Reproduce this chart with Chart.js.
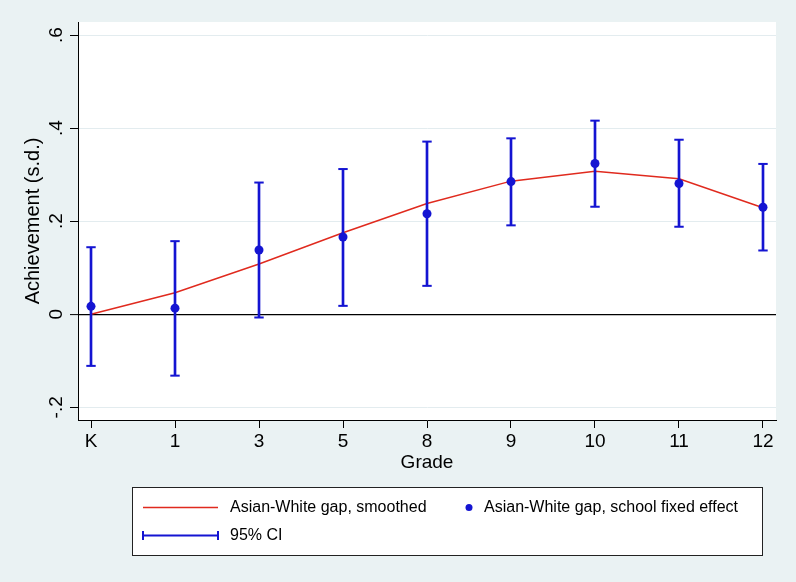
<!DOCTYPE html>
<html><head><meta charset="utf-8">
<script src="https://cdn.jsdelivr.net/npm/chart.js@4/dist/chart.umd.min.js"></script>
<style>html,body{margin:0;padding:0;background:#eaf2f3;} #wrap{width:796px;height:582px;}</style>
</head><body><div id="wrap"><canvas id="c" width="796" height="582"></canvas></div>
<script>
const grades = ['K','1','3','5','8','9','10','11','12'];
const smoothed = [0.000,0.046,0.108,0.175,0.238,0.286,0.307,0.291,0.229];
const fixedEffect = [0.017,0.013,0.138,0.166,0.216,0.285,0.324,0.281,0.230];
const ciLow = [-0.111,-0.132,-0.007,0.018,0.061,0.191,0.231,0.188,0.137];
const ciHigh = [0.144,0.157,0.283,0.312,0.371,0.378,0.416,0.375,0.323];
const yTicks = [-0.2,0,0.2,0.4,0.6];
const yTickLabels = ['-.2','0','.2','.4','.6'];
const legendLabels = ['Asian-White gap, smoothed','Asian-White gap, school fixed effect','95% CI'];

const BLUE = '#1414d2';
const RED = '#e02a1e';
const FONT = "'Liberation Sans', Arial, Helvetica, sans-serif";
Chart.defaults.font.family = FONT;
Chart.defaults.color = '#000';

const bgPlugin = {
  id: 'bg',
  beforeDraw(chart) {
    const {ctx, chartArea: a} = chart;
    ctx.save();
    ctx.fillStyle = '#eaf2f3';
    ctx.fillRect(0, 0, chart.width, chart.height);
    ctx.fillStyle = '#ffffff';
    ctx.fillRect(a.left, a.top, a.right - a.left, a.bottom - a.top);
    ctx.restore();
  }
};

const legendPlugin = {
  id: 'stataLegend',
  afterDraw(chart) {
    const ctx = chart.ctx;
    ctx.save();
    const bx = 132.5, by = 487.5, bw = 630, bh = 68;
    ctx.fillStyle = '#ffffff';
    ctx.fillRect(bx, by, bw, bh);
    ctx.strokeStyle = '#222';
    ctx.lineWidth = 1;
    ctx.strokeRect(bx, by, bw, bh);
    const r1 = 507.5, r2 = 535.5;
    // smoothed line sample
    ctx.strokeStyle = RED; ctx.lineWidth = 1.5;
    ctx.beginPath(); ctx.moveTo(143, r1); ctx.lineTo(218, r1); ctx.stroke();
    // dot sample
    ctx.fillStyle = BLUE;
    ctx.beginPath(); ctx.arc(469, r1, 3.5, 0, Math.PI * 2); ctx.fill();
    // CI sample
    ctx.strokeStyle = BLUE; ctx.lineWidth = 2;
    ctx.beginPath();
    ctx.moveTo(143, r2); ctx.lineTo(218, r2);
    ctx.moveTo(143, r2 - 4.5); ctx.lineTo(143, r2 + 4.5);
    ctx.moveTo(218, r2 - 4.5); ctx.lineTo(218, r2 + 4.5);
    ctx.stroke();
    ctx.fillStyle = '#000';
    ctx.font = '16px ' + FONT;
    ctx.textBaseline = 'middle';
    ctx.textAlign = 'left';
    ctx.fillText(legendLabels[0], 230, r1);
    ctx.fillText(legendLabels[1], 484, r1);
    ctx.fillText(legendLabels[2], 230, r2);
    ctx.restore();
  }
};

const capPoints = [];
grades.forEach((g, i) => { capPoints.push({x: i, y: ciLow[i]}); capPoints.push({x: i, y: ciHigh[i]}); });

new Chart(document.getElementById('c'), {
  type: 'scatter',
  data: {
    datasets: [
      { type: 'line', label: legendLabels[0], data: smoothed.map((v, i) => ({x: i, y: v})),
        borderColor: RED, borderWidth: 1.5, pointRadius: 0, tension: 0, fill: false, order: 4 },
      { type: 'bar', label: legendLabels[2], data: grades.map((g, i) => ({x: i, y: [ciLow[i], ciHigh[i]]})),
        backgroundColor: BLUE, borderWidth: 0, barThickness: 2, order: 3 },
      { type: 'scatter', label: 'caps', data: capPoints, pointStyle: 'line', pointRadius: 4.7,
        borderColor: BLUE, pointBorderWidth: 2, borderWidth: 2, showLine: false, order: 2 },
      { type: 'scatter', label: legendLabels[1], data: fixedEffect.map((v, i) => ({x: i, y: v})),
        pointRadius: 4.5, backgroundColor: BLUE, borderColor: BLUE, borderWidth: 0, order: 1 }
    ]
  },
  options: {
    responsive: false,
    animation: false,
    devicePixelRatio: 1,
    events: [],
    layout: { padding: { top: 22, right: 20, bottom: 107.6, left: 0 } },
    plugins: { legend: { display: false }, tooltip: { enabled: false } },
    scales: {
      x: {
        type: 'linear', min: -0.1548, max: 8.1548, bounds: 'data', offset: false,
        afterBuildTicks: s => { s.ticks = grades.map((g, i) => ({value: i})); },
        afterFit: s => { s.height = 54.4; },
        ticks: { autoSkip: false, maxRotation: 0, minRotation: 0, padding: 2, font: {size: 19}, color: '#000',
                 callback: v => grades[v] },
        grid: { drawOnChartArea: false, drawTicks: true, tickLength: 8, tickColor: '#000', offset: false },
        border: { color: '#000', width: 1 },
        title: { display: true, text: 'Grade', font: {size: 19}, color: '#000', padding: {top: 0, bottom: 0} }
      },
      y: {
        type: 'linear', min: -0.2273, max: 0.628, bounds: 'data',
        afterBuildTicks: s => { s.ticks = yTicks.map(v => ({value: v})); },
        afterFit: s => { s.width = 78; },
        ticks: { minRotation: 90, maxRotation: 90, crossAlign: 'center', padding: 2, font: {size: 19}, color: '#000',
                 callback: (v, i) => yTickLabels[i] },
        grid: { color: c => (c.tick && c.tick.value === 0) ? '#000' : '#e3ecef',
                lineWidth: c => (c.tick && c.tick.value === 0) ? 1.2 : 1,
                drawTicks: true, tickLength: 8, tickColor: '#000', tickWidth: 1 },
        border: { color: '#000', width: 1 },
        title: { display: true, text: 'Achievement (s.d.)', font: {size: 20}, color: '#000', padding: {top: 21, bottom: 0} }
      }
    }
  },
  plugins: [bgPlugin, legendPlugin]
});
</script>
</body></html>
